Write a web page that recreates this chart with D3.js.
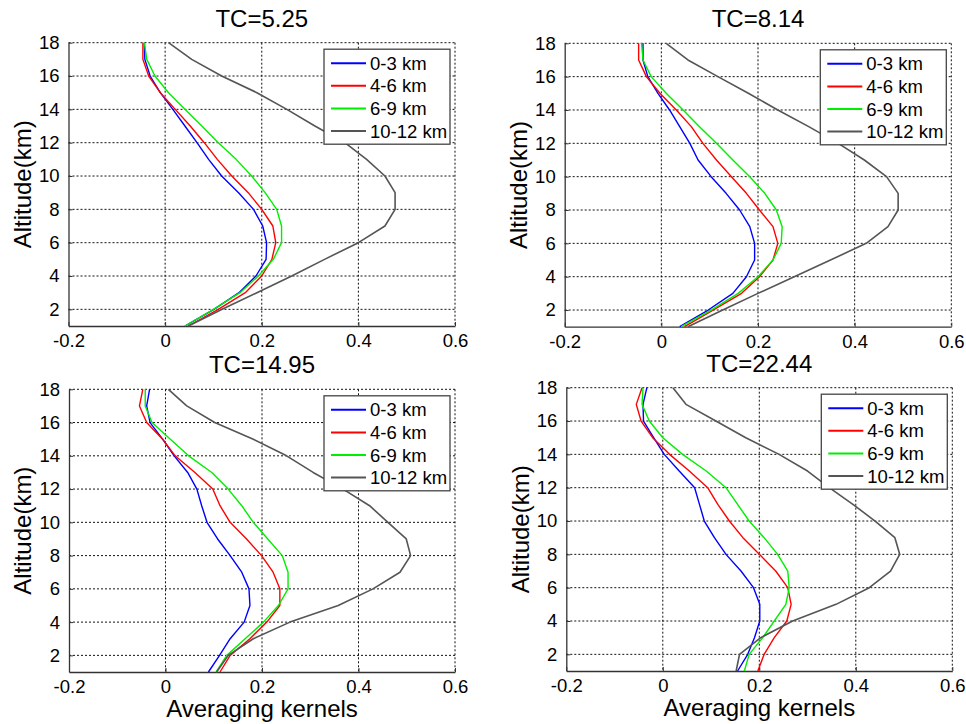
<!DOCTYPE html>
<html>
<head>
<meta charset="utf-8">
<script src="https://cdn.jsdelivr.net/npm/d3@7"></script>
<style>
  html, body { margin: 0; padding: 0; background: #fff; }
  svg { display: block; font-family: "Liberation Sans", Arial, sans-serif; }
</style>
</head>
<body>
<svg id="chart" width="966" height="724"></svg>
<script>
// ---------------- data ----------------
const altitudes = [1,2,3,4,5,6,7,8,9,10,11,12,13,14,15,16,17,18];
const seriesNames = ["0-3 km", "4-6 km", "6-9 km", "10-12 km"];
const panelTitles = ["TC=5.25", "TC=8.14", "TC=14.95", "TC=22.44"];
const xTicks = [-0.2, 0, 0.2, 0.4, 0.6];
const xTickLabels = ["-0.2", "0", "0.2", "0.4", "0.6"];
const yTicks = [2,4,6,8,10,12,14,16,18];

// panel 1 (TC=5.25)
const p1_03  = [0.041,0.101,0.153,0.188,0.209,0.210,0.202,0.183,0.152,0.117,0.090,0.066,0.041,0.016,-0.010,-0.031,-0.042,-0.043];
const p1_46  = [0.048,0.110,0.166,0.200,0.221,0.229,0.223,0.200,0.172,0.138,0.108,0.081,0.052,0.021,-0.010,-0.034,-0.046,-0.046];
const p1_69  = [0.041,0.100,0.155,0.193,0.224,0.241,0.241,0.231,0.207,0.179,0.147,0.110,0.076,0.041,0.007,-0.021,-0.038,-0.043];
const p1_1012= [0.048,0.118,0.190,0.262,0.330,0.400,0.455,0.476,0.476,0.455,0.417,0.372,0.310,0.252,0.190,0.117,0.055,0.007];
// panel 2 (TC=8.14)
const p2_03  = [0.038,0.097,0.148,0.176,0.193,0.193,0.183,0.162,0.134,0.103,0.076,0.059,0.038,0.017,-0.007,-0.028,-0.038,-0.038];
const p2_46  = [0.048,0.107,0.166,0.203,0.231,0.241,0.231,0.203,0.176,0.145,0.114,0.086,0.062,0.031,-0.003,-0.031,-0.047,-0.047];
const p2_69  = [0.041,0.103,0.159,0.200,0.231,0.248,0.250,0.238,0.214,0.183,0.148,0.114,0.079,0.045,0.010,-0.021,-0.038,-0.041];
const p2_1012= [0.055,0.127,0.200,0.275,0.350,0.424,0.469,0.490,0.490,0.466,0.420,0.366,0.305,0.241,0.180,0.117,0.055,0.010];
// panel 3 (TC=14.95)
const p3_03  = [0.089,0.112,0.134,0.163,0.175,0.173,0.158,0.134,0.108,0.086,0.075,0.065,0.046,0.018,-0.006,-0.032,-0.039,-0.033];
const p3_46  = [0.113,0.134,0.175,0.210,0.237,0.237,0.223,0.199,0.168,0.134,0.113,0.098,0.061,0.020,-0.006,-0.039,-0.054,-0.047];
const p3_69  = [0.105,0.127,0.165,0.203,0.234,0.254,0.254,0.242,0.212,0.182,0.158,0.130,0.096,0.048,0.010,-0.028,-0.042,-0.042];
const p3_1012= [0.106,0.130,0.182,0.258,0.358,0.430,0.486,0.508,0.499,0.461,0.423,0.368,0.306,0.251,0.182,0.102,0.044,0.006];
// panel 4 (TC=22.44)
const p4_03  = [0.155,0.176,0.190,0.201,0.201,0.188,0.162,0.131,0.107,0.086,0.076,0.066,0.034,0.003,-0.019,-0.040,-0.041,-0.033];
const p4_46  = [0.197,0.210,0.231,0.257,0.266,0.259,0.234,0.200,0.166,0.138,0.114,0.093,0.055,0.014,-0.021,-0.045,-0.055,-0.043];
const p4_69  = [0.169,0.179,0.207,0.231,0.255,0.262,0.259,0.238,0.210,0.179,0.155,0.131,0.090,0.041,0.000,-0.028,-0.043,-0.041];
const p4_1012= [0.152,0.159,0.203,0.269,0.359,0.428,0.472,0.491,0.481,0.440,0.394,0.345,0.300,0.241,0.172,0.110,0.048,0.021];

const panelSeries = [
  [p1_03, p1_46, p1_69, p1_1012],
  [p2_03, p2_46, p2_69, p2_1012],
  [p3_03, p3_46, p3_69, p3_1012],
  [p4_03, p4_46, p4_69, p4_1012]
];

// ---------------- styling / layout ----------------
const colors = ["#0000ff", "#ff0000", "#00ee00", "#555555"];
const layout = [
  {left: 68.5, right: 455,   top: 42.7,  bottom: 326,   xlabel: false},
  {left: 564.7, right: 951.3, top: 43.3, bottom: 326.7, xlabel: false},
  {left: 69,   right: 455,   top: 389.3, bottom: 672,   xlabel: true},
  {left: 566.3, right: 952.3, top: 387.7, bottom: 671,  xlabel: true}
];
const tickFont = "18.5px";

const svg = d3.select("#chart");

layout.forEach((L, pi) => {
  const x = d3.scaleLinear().domain([-0.2, 0.6]).range([L.left, L.right]);
  const y = d3.scaleLinear().domain([1, 18]).range([L.bottom, L.top]);
  const g = svg.append("g");

  // grid
  g.append("g").selectAll("line").data(xTicks.slice(1)).join("line")
    .attr("x1", d => x(d)).attr("x2", d => x(d))
    .attr("y1", L.top).attr("y2", L.bottom)
    .attr("stroke", "#111").attr("stroke-width", 1)
    .attr("stroke-dasharray", "2,2");
  g.append("g").selectAll("line").data(yTicks).join("line")
    .attr("x1", L.left).attr("x2", L.right)
    .attr("y1", d => y(d)).attr("y2", d => y(d))
    .attr("stroke", "#111").attr("stroke-width", 1)
    .attr("stroke-dasharray", "2,2");

  // axes
  const xAxis = d3.axisBottom(x).tickValues(xTicks)
    .tickFormat((d, i) => xTickLabels[i]).tickSizeInner(-4).tickSizeOuter(0).tickPadding(8);
  const gx = g.append("g").attr("transform", `translate(0,${L.bottom})`).call(xAxis);
  gx.select(".domain").attr("stroke", "#333").attr("stroke-width", 1.3);
  gx.selectAll(".tick line").attr("stroke", "#333");
  gx.selectAll("text").attr("font-size", tickFont).attr("fill", "#000")
    .attr("font-family", "Liberation Sans, Arial, sans-serif");

  const yAxis = d3.axisLeft(y).tickValues(yTicks)
    .tickSizeInner(-4).tickSizeOuter(0).tickPadding(9);
  const gy = g.append("g").attr("transform", `translate(${L.left},0)`).call(yAxis);
  gy.select(".domain").attr("stroke", "#333").attr("stroke-width", 1.3);
  gy.selectAll(".tick line").attr("stroke", "#333");
  gy.selectAll("text").attr("font-size", tickFont).attr("fill", "#000")
    .attr("font-family", "Liberation Sans, Arial, sans-serif");

  // lines
  const line = d3.line().x(d => x(d[0])).y(d => y(d[1]));
  panelSeries[pi].forEach((vals, si) => {
    const pts = vals.map((v, k) => [v, altitudes[k]]);
    g.append("path").datum(pts).attr("d", line)
      .attr("fill", "none").attr("stroke", colors[si])
      .attr("stroke-width", si === 3 ? 1.6 : 1.4)
      .attr("stroke-linejoin", "round");
  });

  // title
  g.append("text").attr("x", (L.left + L.right) / 2).attr("y", L.top - 16)
    .attr("text-anchor", "middle").attr("font-size", "24px").text(panelTitles[pi]);

  // y label
  const cy = (L.top + L.bottom) / 2;
  g.append("text").attr("transform", `translate(${L.left - 46},${cy}) rotate(-90)`)
    .attr("text-anchor", "middle").attr("dy", "0.35em").attr("font-size", "24px")
    .text("Altitude(km)");

  // x label
  if (L.xlabel) {
    g.append("text").attr("x", (L.left + L.right) / 2).attr("y", L.bottom + 45)
      .attr("text-anchor", "middle").attr("font-size", "24px").text("Averaging kernels");
  }

  // legend
  const lg = g.append("g").attr("transform", `translate(${L.right - 131},${L.top + 6.5})`);
  lg.append("rect").attr("width", 126).attr("height", 95)
    .attr("fill", "#fff").attr("stroke", "#444").attr("stroke-width", 1.3);
  seriesNames.forEach((name, si) => {
    const ry = 14 + si * 22.6;
    lg.append("line").attr("x1", 7).attr("x2", 42).attr("y1", ry).attr("y2", ry)
      .attr("stroke", colors[si]).attr("stroke-width", 2);
    lg.append("text").attr("x", 46).attr("y", ry).attr("dy", "0.36em")
      .attr("font-size", tickFont).text(name);
  });
});
</script>
</body>
</html>
